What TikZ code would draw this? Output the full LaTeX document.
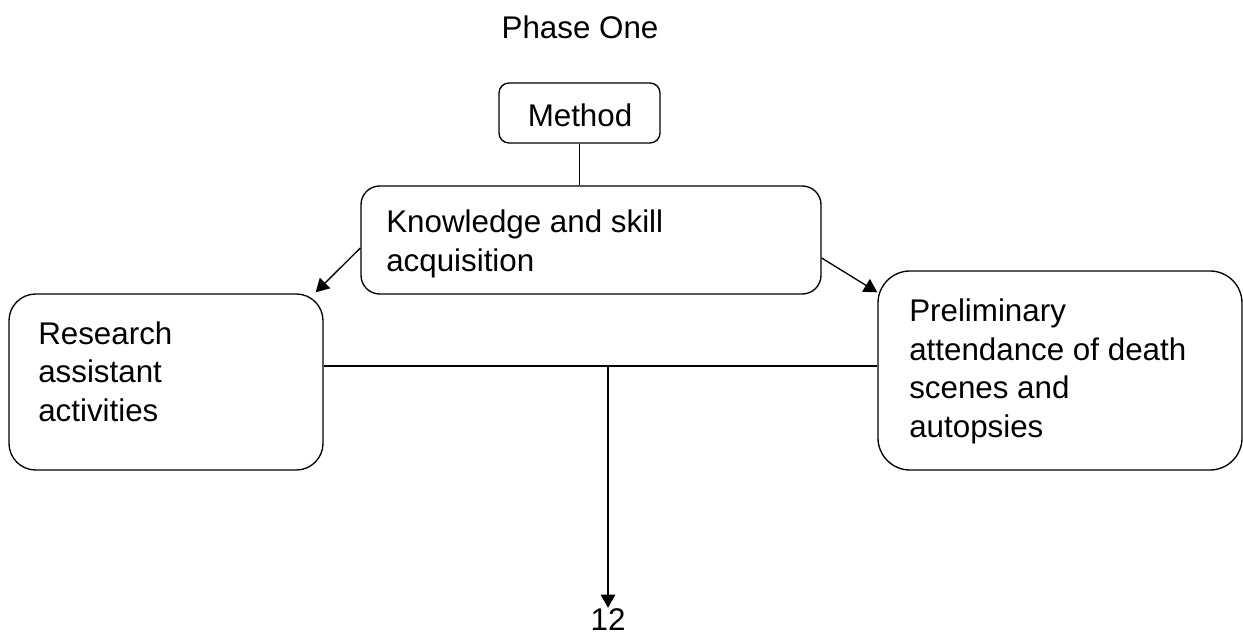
\documentclass[tikz,border=0pt]{standalone}
\usepackage{fontspec}
\setmainfont{Liberation Sans}
\usetikzlibrary{arrows.meta,calc}
\begin{document}
\begin{tikzpicture}[x=0.75pt,y=-0.75pt,
  font=\fontsize{23.5}{28.8}\selectfont,
  box/.style={draw, line width=1pt, inner sep=0pt},
  txt/.style={inner sep=0pt, align=left, anchor=base west},
  conn/.style={line width=1pt},
  arr/.style={line width=1pt, -{Triangle[length=10pt,width=11pt]}}]
\useasboundingbox (0,0) rectangle (1243,635);
\node[inner sep=0pt, anchor=base] (title) at (580,39) {Phase One};
\node[box, rounded corners=7.5pt, minimum width=161*0.75pt, minimum height=60*0.75pt] (method) at (579.5,113) {};
\node[inner sep=0pt, anchor=base] (methodtxt) at (580,127) {Method};
\node[box, rounded corners=14pt, minimum width=460*0.75pt, minimum height=108*0.75pt] (know) at (591,240) {};
\node[txt] (knowtxt) at (386,271) {Knowledge and skill\\acquisition};
\node[box, rounded corners=20pt, minimum width=314*0.75pt, minimum height=176*0.75pt] (research) at (166,382) {};
\node[txt] (researchtxt) at (38,421) {Research\\assistant\\activities};
\node[box, rounded corners=24pt, minimum width=364*0.75pt, minimum height=199*0.75pt] (prelim) at (1060,370.5) {};
\node[txt] (prelimtxt) at (909,437) {Preliminary\\attendance of death\\scenes and\\autopsies};
\node[inner sep=0pt, anchor=base] (num) at (608,630) {12};
\coordinate (j) at (608,366);
\draw[conn] (method.south) -- (method.south |- know.north);
\draw[arr] ($(know.west)+(0,8)$) -- ($(research.north east)+(-8,-1)$);
\draw[arr] ($(know.east)+(0,18)$) -- ($(prelim.north west)+(0,22)$);
\draw[conn] (j -| research.east) -- (j -| prelim.west);
\draw[arr] (j) -- (num.north);
\end{tikzpicture}
\end{document}
